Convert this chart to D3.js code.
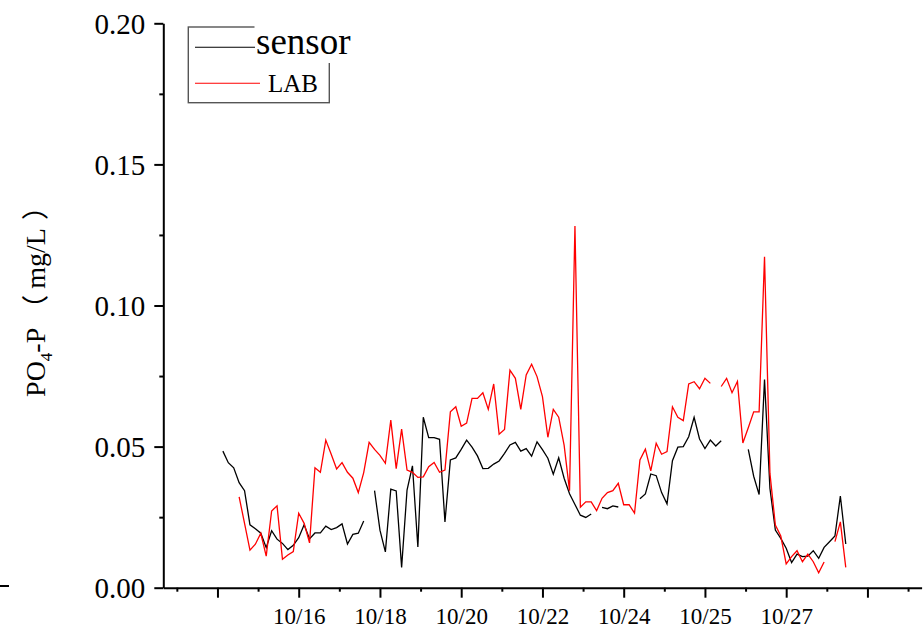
<!DOCTYPE html>
<html>
<head>
<meta charset="utf-8">
<script src="https://cdn.jsdelivr.net/npm/d3@7"></script>
<style>
  body { margin: 0; background: #fff; }
  svg { display: block; }
  .axis path, .axis line { stroke: #000; }
</style>
</head>
<body>
<svg id="chart" width="924" height="628"></svg>
<script>
// Readings are evenly spaced; the first one sits at sample index 11.
const firstIndex = 11;

// PO4-P from the online sensor (mg/L), null = no reading
const sensor = [
  0.0484, 0.0443, 0.0425, 0.0372, 0.0344, 0.0223, 0.0209, 0.0193, 0.0142, 0.0202,
  0.0172, 0.0157, 0.0135, 0.0150, 0.0177, 0.0223, 0.0173, 0.0194, 0.0194, 0.0218,
  0.0206, 0.0213, 0.0226, 0.0155, 0.0189, 0.0193, 0.0236, null,   0.0344, 0.0204,
  0.0127, 0.0349, 0.0343, 0.0072, 0.0346, 0.0432, 0.0144, 0.0604, 0.0532, 0.0532,
  0.0526, 0.0233, 0.0453, 0.0460, 0.0490, 0.0523, 0.0498, 0.0467, 0.0422, 0.0423,
  0.0438, 0.0449, 0.0476, 0.0506, 0.0515, 0.0484, 0.0493, 0.0466, 0.0517, 0.0489,
  0.0459, 0.0402, 0.0460, 0.0388, 0.0333, 0.0295, 0.0257, 0.0249, 0.0261, null,
  0.0285, 0.0280, 0.0290, 0.0286, null,   null,   null,   0.0315, 0.0332, 0.0403,
  0.0397, 0.0337, 0.0297, 0.0450, 0.0498, 0.0500, 0.0535, 0.0604, 0.0527, 0.0493,
  0.0523, 0.0502, 0.0521, null,   null,   null,   null,   0.0490, 0.0395, 0.0330,
  0.0738, 0.0352, 0.0204, 0.0175, 0.0140, 0.0089, 0.0119, 0.0110, 0.0112, 0.0131,
  0.0104, 0.0143, 0.0163, 0.0183, 0.0325, 0.0155
];

// PO4-P from laboratory analysis (mg/L), null = no sample
const lab = [
  null,   null,   null,   0.0322, 0.0228, 0.0133, 0.0154, 0.0193, 0.0112, 0.0272,
  0.0290, 0.0101, 0.0116, 0.0128, 0.0264, 0.0228, 0.0159, 0.0425, 0.0409, 0.0523,
  0.0473, 0.0421, 0.0443, 0.0409, 0.0388, 0.0337, 0.0408, 0.0515, 0.0490, 0.0469,
  0.0441, 0.0594, 0.0422, 0.0562, 0.0417, 0.0409, 0.0391, 0.0393, 0.0429, 0.0444,
  0.0409, 0.0417, 0.0623, 0.0641, 0.0572, 0.0583, 0.0671, 0.0671, 0.0691, 0.0632,
  0.0722, 0.0544, 0.0561, 0.0771, 0.0742, 0.0632, 0.0754, 0.0792, 0.0748, 0.0677,
  0.0533, 0.0632, 0.0604, 0.0505, 0.0344, 0.1282, 0.0285, 0.0304, 0.0304, 0.0273,
  0.0317, 0.0337, 0.0344, 0.0370, 0.0294, 0.0294, 0.0264, 0.0453, 0.0491, 0.0414,
  0.0512, 0.0473, 0.0482, 0.0641, 0.0604, 0.0592, 0.0722, 0.0730, 0.0705, 0.0742,
  0.0724, null,   0.0713, 0.0742, 0.0691, 0.0731, 0.0513, 0.0567, 0.0623, 0.0623,
  0.1173, 0.0405, 0.0222, 0.0183, 0.0084, 0.0110, 0.0131, 0.0092, 0.0119, 0.0092,
  0.0053, 0.0091, null,   0.0163, 0.0233, 0.0072
];

// x axis: major ticks every 15 samples, minor halfway between
const xMajorTicks = [10, 25, 40, 55, 70, 85, 100, 115, 130];
const xTickLabels = ["", "10/16", "10/18", "10/20", "10/22", "10/24", "10/25", "10/27", ""];
const xMinorTicks = [2.5, 17.5, 32.5, 47.5, 62.5, 77.5, 92.5, 107.5, 122.5, 137.5];

// y axis
const yMajorTicks = [0, 0.05, 0.10, 0.15, 0.20];
const yMinorTicks = [0.025, 0.075, 0.125, 0.175];

const seriesNames = ["sensor", "LAB"];
const seriesColors = ["#000000", "#ff0000"];

const svg = d3.select("#chart");
const serif = "'Liberation Serif', 'Times New Roman', serif";
const cjk = "'Noto Sans CJK SC', 'Noto Sans CJK JP', sans-serif";

const x = d3.scaleLinear().domain([0, 140]).range([163.3, 921.6]);
const y = d3.scaleLinear().domain([0, 0.20]).range([587.7, 23.3]);

// ----- axes -----
const xMinorAxis = d3.axisBottom(x).tickValues(xMinorTicks).tickSize(4).tickSizeOuter(0).tickFormat("");
const xMajorAxis = d3.axisBottom(x).tickValues(xMajorTicks).tickSize(10).tickSizeOuter(0)
  .tickFormat((d, i) => xTickLabels[i]);

svg.append("g").attr("class", "axis").attr("transform", `translate(0,${y(0)})`)
  .call(xMinorAxis)
  .call(g => g.select(".domain").remove())
  .call(g => g.selectAll("line").attr("stroke-width", 2));

const gx = svg.append("g").attr("class", "axis").attr("transform", `translate(0,${y(0)})`)
  .call(xMajorAxis);
gx.select(".domain").attr("stroke-width", 2);
gx.selectAll("line").attr("stroke-width", 2);
gx.selectAll("text")
  .attr("y", 36.6).attr("dy", 0)
  .style("font-family", serif).style("font-size", "23px").attr("fill", "#000");

const yMinorAxis = d3.axisLeft(y).tickValues(yMinorTicks).tickSize(4).tickSizeOuter(0).tickFormat("");
const yMajorAxis = d3.axisLeft(y).tickValues(yMajorTicks).tickSize(9).tickSizeOuter(0)
  .tickFormat(d3.format(".2f"));

svg.append("g").attr("class", "axis").attr("transform", `translate(${x(0)},0)`)
  .call(yMinorAxis)
  .call(g => g.select(".domain").remove())
  .call(g => g.selectAll("line").attr("stroke-width", 2));

const gy = svg.append("g").attr("class", "axis").attr("transform", `translate(${x(0)},0)`)
  .call(yMajorAxis);
gy.select(".domain").attr("stroke-width", 2);
gy.selectAll("line").attr("stroke-width", 2);
gy.selectAll("text")
  .attr("x", -18).attr("dy", "0.34em")
  .style("font-family", serif).style("font-size", "29px").attr("fill", "#000");

// y axis title: PO4-P（mg/L）
const yTitle = svg.append("text")
  .attr("transform", `translate(45,295) rotate(-90)`)
  .attr("text-anchor", "middle")
  .style("font-family", serif).style("font-size", "28px").attr("fill", "#000");
yTitle.append("tspan").text("PO");
yTitle.append("tspan").attr("dy", 7).style("font-size", "17px").text("4");
yTitle.append("tspan").attr("dy", -7).text("-P");
yTitle.append("tspan").attr("dx", 6).style("font-family", cjk).style("font-size", "27px").text("（");
yTitle.append("tspan").attr("dx", 6).text("mg/L");
yTitle.append("tspan").attr("dx", 8).style("font-family", cjk).style("font-size", "27px").text("）");

// small mark at the left edge
svg.append("line").attr("x1", 0).attr("x2", 9).attr("y1", 586).attr("y2", 586)
  .attr("stroke", "#000").attr("stroke-width", 2);

// ----- data lines -----
const line = d3.line()
  .defined(d => d.v !== null)
  .x(d => x(d.i))
  .y(d => y(d.v));

[sensor, lab].forEach((vals, k) => {
  const pts = vals.map((v, j) => ({ i: firstIndex + j, v }));
  svg.append("path")
    .datum(pts)
    .attr("d", line)
    .attr("fill", "none")
    .attr("stroke", seriesColors[k])
    .attr("stroke-width", 1.3)
    .attr("stroke-linejoin", "miter");
});

// ----- legend -----
const lg = svg.append("g");
lg.append("rect")
  .attr("x", 188.3).attr("y", 27).attr("width", 141).attr("height", 75.7)
  .attr("fill", "none").attr("stroke", "#555").attr("stroke-width", 1.4);
// the large "sensor" label sits on an opaque patch that covers part of the frame
lg.append("rect").attr("x", 254.5).attr("y", 20).attr("width", 105).attr("height", 43)
  .attr("fill", "#fff");
lg.append("line").attr("x1", 195).attr("x2", 255).attr("y1", 47.3).attr("y2", 47.3)
  .attr("stroke", seriesColors[0]).attr("stroke-width", 1.1);
lg.append("text").attr("x", 256).attr("y", 53.5).text(seriesNames[0])
  .style("font-family", serif).style("font-size", "37px").attr("fill", "#000");
lg.append("line").attr("x1", 195).attr("x2", 260).attr("y1", 83.3).attr("y2", 83.3)
  .attr("stroke", seriesColors[1]).attr("stroke-width", 1.1);
lg.append("text").attr("x", 268).attr("y", 92.3).text(seriesNames[1])
  .style("font-family", serif).style("font-size", "25px").attr("fill", "#000");
</script>
</body>
</html>
